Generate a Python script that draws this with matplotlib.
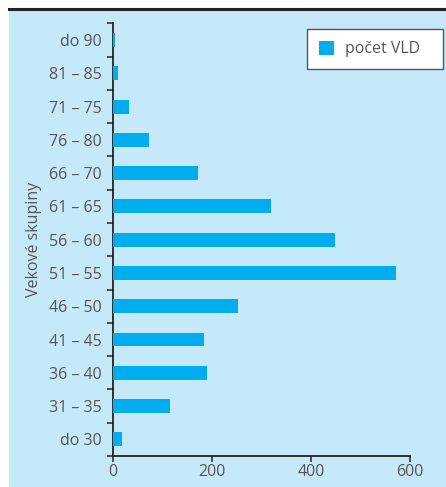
import matplotlib
matplotlib.use("Agg")
import matplotlib.pyplot as plt
from matplotlib.patches import Rectangle
from matplotlib.lines import Line2D

plt.rcParams['font.family'] = ['Open Sans', 'DejaVu Sans']

# vekove skupiny zdola nahor
skupiny = ["do 30", "31 – 35", "36 – 40", "41 – 45", "46 – 50", "51 – 55",
           "56 – 60", "61 – 65", "66 – 70", "76 – 80", "71 – 75", "81 – 85", "do 90"]
pocet_vld = [17, 115, 189, 183, 252, 572, 449, 319, 171, 72, 32, 9, 3]
x_ticks = [0, 200, 400, 600]

bg = "#c6e9f9"
bar_col = "#00aeef"
txt = "#555555"

fig = plt.figure(figsize=(4.46, 4.87), dpi=100)
fig.patches.append(Rectangle((9 / 446, 0), 1, 1 - 10 / 487, transform=fig.transFigure,
                             facecolor=bg, edgecolor="none", zorder=-10))
fig.lines.append(Line2D([9 / 446, 1], [1 - 9 / 487, 1 - 9 / 487], transform=fig.transFigure,
                        color="#222222", lw=2.2, zorder=-5))

ax = fig.add_axes([113.3 / 446, 1 - 456 / 487, (410 - 113.3) / 446, (456 - 23.3) / 487])
ax.set_facecolor("none")

pos = list(range(len(skupiny)))
ax.barh(pos, pocet_vld, height=0.42, color=bar_col, label="počet VLD", zorder=3)

ax.set_xlim(0, 600)
ax.set_ylim(-0.5, len(skupiny) - 0.5)
ax.set_xticks(x_ticks)
ax.set_xticklabels([str(v) for v in x_ticks])

ax.set_yticks([p - 0.5 for p in pos] + [len(skupiny) - 0.5])
ax.set_yticklabels([])
ax.set_yticks(pos, minor=True)
ax.set_yticklabels(skupiny, minor=True)
ax.tick_params(axis="y", which="minor", length=0, pad=8, labelsize=11.5, labelcolor=txt)
ax.tick_params(axis="y", which="major", length=4, width=1.2, color="#333333")
ax.tick_params(axis="x", length=4, width=1.2, color="#333333", pad=2, labelsize=11.5, labelcolor=txt)

for s in ["top", "right"]:
    ax.spines[s].set_visible(False)
for s in ["left", "bottom"]:
    ax.spines[s].set_color("#222222")
    ax.spines[s].set_linewidth(1.3)

ax.set_ylabel("Vekové skupiny", fontsize=11.5, color=txt, labelpad=5)

leg = fig.legend(*ax.get_legend_handles_labels(), loc="upper left", mode="expand",
                 bbox_to_anchor=(307 / 446, 1 - 69 / 487, 136 / 446, 40 / 487),
                 frameon=True, fancybox=False,
                 fontsize=11.5, handlelength=0.95, handleheight=0.95, borderpad=0.75,
                 handletextpad=0.65, borderaxespad=0, framealpha=1)
leg.get_frame().set_edgecolor("#555555")
leg.get_frame().set_linewidth(1.0)
leg.get_frame().set_facecolor("white")
for t in leg.get_texts():
    t.set_color(txt)

fig.savefig("out.png", dpi=100)
